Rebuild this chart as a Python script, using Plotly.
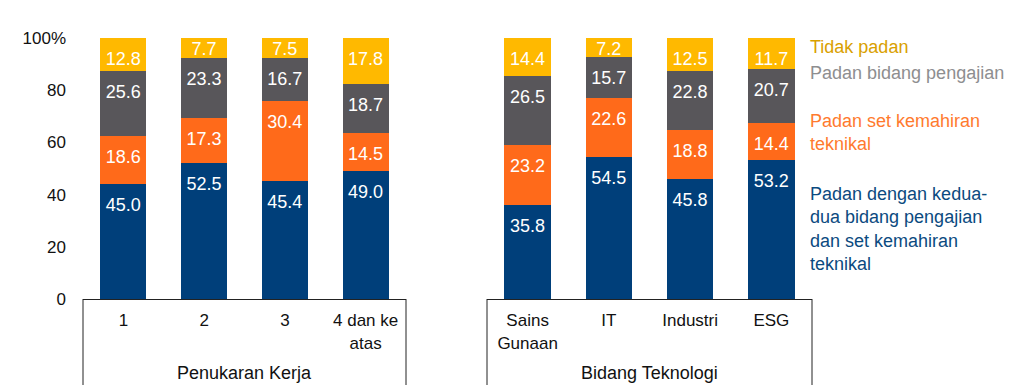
import numpy as np
import plotly.graph_objects as go

# Data
cats_job = ["1", "2", "3", "4 dan ke<br>atas"]
cats_tech = ["Sains<br>Gunaan", "IT", "Industri", "ESG"]
group_titles = ["Penukaran Kerja", "Bidang Teknologi"]
series_names = ["Padan dengan kedua-<br>dua bidang pengajian<br>dan set kemahiran<br>teknikal",
                "Padan set kemahiran<br>teknikal",
                "Padan bidang pengajian",
                "Tidak padan"]
both_job = [45.0, 52.5, 45.4, 49.0]
skill_job = [18.6, 17.3, 30.4, 14.5]
field_job = [25.6, 23.3, 16.7, 18.7]
none_job = [12.8, 7.7, 7.5, 17.8]
both_tech = [35.8, 54.5, 45.8, 53.2]
skill_tech = [23.2, 22.6, 18.8, 14.4]
field_tech = [26.5, 15.7, 22.8, 20.7]
none_tech = [14.4, 7.2, 12.5, 11.7]
y_ticks = [0, 20, 40, 60, 80, 100]
y_ticktext = ["0", "20", "40", "60", "80", "100%"]

colors = ["#003F7A", "#FF6A1A", "#58565A", "#FFB900"]
legend_colors = ["#0B4A80", "#FF7A2E", "#8E8E90", "#D9A000"]

OFF = 8  # page body margin
W, H = 1016 - OFF, 385 - OFF
ml, mr, mt, mb = 83 - OFF, 1016 - 812, 38 - OFF, 385 - 299
pw = W - ml - mr
ph = H - mt - mb
d1 = [0, (406 - 83) / pw]
d2 = [(487 - 83) / pw, 1]

fig = go.Figure()
font = "Liberation Sans, Arial, sans-serif"
FS = 18
job_series = [both_job, skill_job, field_job, none_job]
tech_series = [both_tech, skill_tech, field_tech, none_tech]

for cats, series, xa in [(cats_job, job_series, "x"), (cats_tech, tech_series, "x2")]:
    for i in range(4):
        fig.add_trace(go.Bar(
            x=cats, y=series[i], xaxis=xa, yaxis="y",
            marker=dict(color=colors[i], line=dict(width=0)),
            showlegend=False, hoverinfo="skip",
        ))
    arr = np.array(series)
    tops = np.round(np.cumsum(arr, axis=0) / arr.sum(axis=0) * 100, 6)
    for i in range(4):
        vals = series[i]
        fig.add_trace(go.Scatter(
            x=cats, y=tops[i], xaxis=xa, yaxis="y", mode="markers+text",
            text=[f"{v:.1f}" for v in vals], textposition="bottom center",
            marker=dict(size=[20 if v >= 10 else 4 for v in vals],
                        color="rgba(0,0,0,0)", line=dict(width=0)),
            textfont=dict(color="white", size=FS, family=font),
            showlegend=False, hoverinfo="skip", cliponaxis=False,
        ))

axis_common = dict(showgrid=False, zeroline=False, showline=True, linecolor="#222",
                   linewidth=1, ticks="", ticklabelstandoff=6,
                   tickfont=dict(size=17, family=font, color="#111"),
                   fixedrange=True, type="category")
fig.update_layout(
    width=W, height=H, barmode="stack", barnorm="percent", bargap=0.43,
    margin=dict(l=ml, r=mr, t=mt, b=mb),
    paper_bgcolor="white", plot_bgcolor="white",
    font=dict(family=font, size=FS, color="#111"),
    xaxis=dict(domain=d1, anchor="y", **axis_common),
    xaxis2=dict(domain=d2, anchor="y", **axis_common),
    yaxis=dict(range=[0, 100], tickvals=y_ticks, ticktext=y_ticktext, showgrid=False,
               zeroline=False, showline=False, ticks="", ticklabelstandoff=16,
               tickfont=dict(size=17, family=font, color="#111")),
)

# frame lines below the axes
yb = -mb / ph
for x in [d1[0], d1[1], d2[0], d2[1]]:
    fig.add_shape(type="line", xref="paper", yref="paper", x0=x, x1=x, y0=0, y1=yb,
                  line=dict(color="#222", width=1))

# group titles
for t, d in zip(group_titles, [d1, d2]):
    fig.add_annotation(text=t, xref="paper", yref="paper", x=(d[0] + d[1]) / 2,
                       xanchor="center", y=(299 - 373) / ph, yanchor="middle",
                       showarrow=False, font=dict(size=FS, family=font, color="#111"))

# legend as text
legend_y = [47, 73, 132, 229]
order = [3, 2, 1, 0]
for k, idx in enumerate(order):
    fig.add_annotation(text=series_names[idx], xref="paper", yref="paper",
                       x=(808 - 83) / pw, xanchor="left",
                       y=(299 - legend_y[k]) / ph, yanchor="middle", align="left",
                       showarrow=False,
                       font=dict(size=FS, family=font, color=legend_colors[idx]))

fig.write_html("out.html")
